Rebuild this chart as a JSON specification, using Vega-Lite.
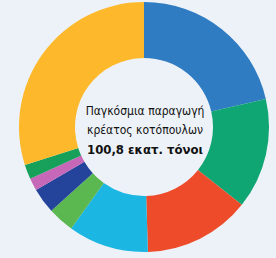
{
  "$schema": "https://vega.github.io/schema/vega-lite/v6.json",
  "autosize": "none",
  "width": 264,
  "height": 254,
  "padding": {"left": 12, "top": 0, "right": 0, "bottom": 4},
  "background": "#edf2f8",
  "config": {"view": {"stroke": null}},
  "layer": [
    {
      "data": {"values": [
        {"segment": "Τμήμα 1", "share": 21.4, "ord": 1},
        {"segment": "Τμήμα 2", "share": 14.3, "ord": 2},
        {"segment": "Τμήμα 3", "share": 13.8, "ord": 3},
        {"segment": "Τμήμα 4", "share": 10.4, "ord": 4},
        {"segment": "Τμήμα 5", "share": 3.4, "ord": 5},
        {"segment": "Τμήμα 6", "share": 3.3, "ord": 6},
        {"segment": "Τμήμα 7", "share": 1.6, "ord": 7},
        {"segment": "Τμήμα 8", "share": 1.9, "ord": 8},
        {"segment": "Τμήμα 9", "share": 29.9, "ord": 9}
      ]},
      "mark": {"type": "arc", "outerRadius": 125, "innerRadius": 69},
      "encoding": {
        "theta": {"field": "share", "type": "quantitative", "stack": true},
        "order": {"field": "ord", "type": "quantitative"},
        "color": {
          "field": "segment", "type": "nominal", "legend": null,
          "scale": {
            "domain": ["Τμήμα 1","Τμήμα 2","Τμήμα 3","Τμήμα 4","Τμήμα 5","Τμήμα 6","Τμήμα 7","Τμήμα 8","Τμήμα 9"],
            "range": ["#2f7cc3","#10a673","#ee4b2b","#1bb6e1","#5bb74f","#24439a","#c767b8","#16a05a","#fdb92b"]
          }
        }
      }
    },
    {
      "data": {"values": [{"t": "Παγκόσμια παραγωγή"}]},
      "mark": {"type": "text", "font": "DejaVu Sans Condensed", "fontSize": 12, "color": "#111111", "dy": -16, "dx": 1},
      "encoding": {"text": {"field": "t", "type": "nominal"}}
    },
    {
      "data": {"values": [{"t": "κρέατος κοτόπουλων"}]},
      "mark": {"type": "text", "font": "DejaVu Sans Condensed", "fontSize": 12, "color": "#111111", "dy": 3, "dx": 1},
      "encoding": {"text": {"field": "t", "type": "nominal"}}
    },
    {
      "data": {"values": [{"t": "100,8 εκατ. τόνοι"}]},
      "mark": {"type": "text", "font": "DejaVu Sans Condensed", "fontSize": 13, "fontWeight": "bold", "color": "#111111", "dy": 23, "dx": 1},
      "encoding": {"text": {"field": "t", "type": "nominal"}}
    }
  ]
}
